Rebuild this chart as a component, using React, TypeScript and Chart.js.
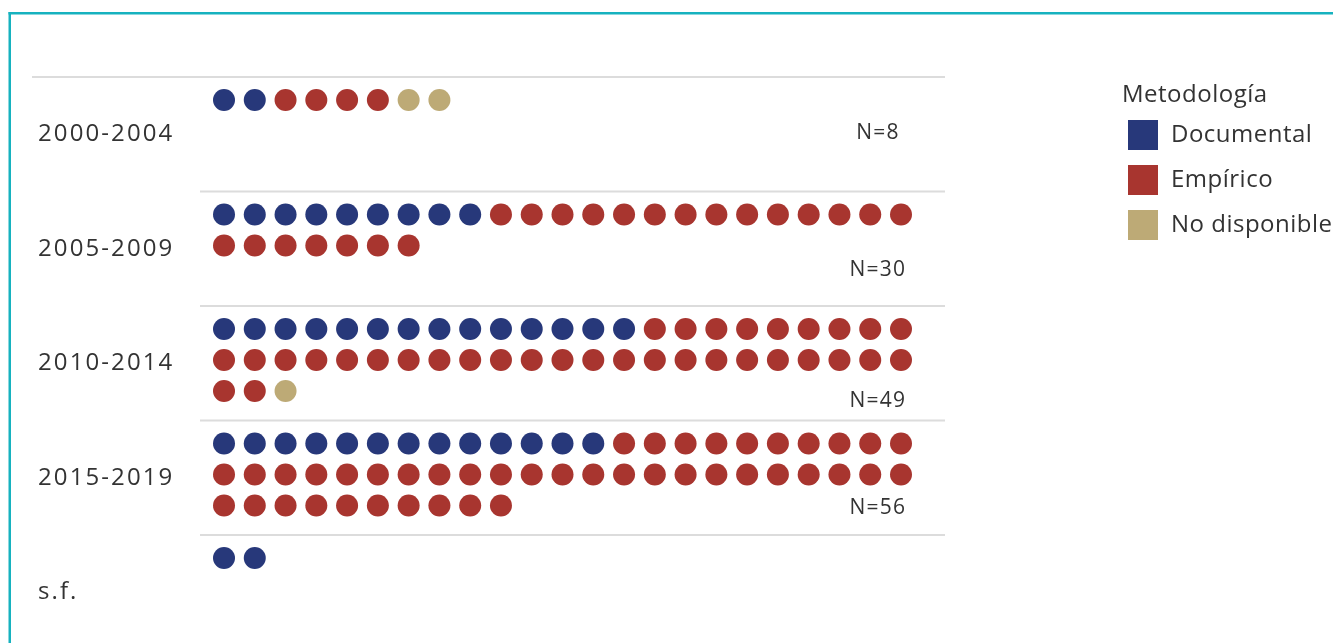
import React, { useEffect, useRef } from "react";
import { Chart, registerables } from "chart.js";
Chart.register(...registerables);

// ---- data ----
const periods = ["2000-2004", "2005-2009", "2010-2014", "2015-2019", "s.f."];
const documental = [2, 9, 14, 13, 2];
const empirico = [4, 21, 34, 43, 0];
const noDisponible = [2, 0, 1, 0, 0];
const showN = [true, true, true, true, false];
const categoryNames = ["Documental", "Empírico", "No disponible"];
const categoryColors = ["#27387a", "#a8352f", "#bdaa76"];
const legendTitle = "Metodología";

// ---- layout constants ----
const PER_ROW = 23;
const BAND_PX = 114.5;
const FIRST_ROW = 23 / BAND_PX;
const ROW_STEP = 31 / BAND_PX;
const N_LABEL_DY = [56, 79, 95, 88, 0];
const TEXT_COLOR = "#333333";
const FONT = "'Open Sans', 'Noto Sans', sans-serif";

type Pt = { x: number; y: number };

function buildPoints(): Pt[][] {
  const series = [documental, empirico, noDisponible];
  const out: Pt[][] = series.map(() => []);
  periods.forEach((_, g) => {
    let idx = 0;
    series.forEach((arr, s) => {
      for (let k = 0; k < arr[g]; k++) {
        const col = idx % PER_ROW;
        const row = Math.floor(idx / PER_ROW);
        out[s].push({ x: col, y: g + FIRST_ROW + row * ROW_STEP });
        idx++;
      }
    });
  });
  return out;
}

const decorPlugin = {
  id: "decor",
  beforeDraw(chart: any) {
    const ctx = chart.ctx;
    ctx.save();
    ctx.fillStyle = "#ffffff";
    ctx.fillRect(0, 0, chart.width, chart.height);
    // teal frame
    ctx.fillStyle = "#16b2bf";
    ctx.fillRect(8.5, 12, 2.5, chart.height);
    ctx.fillRect(8.5, 12, chart.width, 2.5);
    ctx.restore();
  },
  beforeDatasetsDraw(chart: any) {
    const ctx = chart.ctx;
    const y = chart.scales.y;
    const area = chart.chartArea;
    ctx.save();
    ctx.strokeStyle = "#dcdcdc";
    ctx.lineWidth = 2;
    for (let k = 0; k < periods.length; k++) {
      const py = y.getPixelForValue(k);
      ctx.beginPath();
      ctx.moveTo(k === 0 ? 32 : area.left, py);
      ctx.lineTo(area.right, py);
      ctx.stroke();
    }
    // period labels
    ctx.fillStyle = TEXT_COLOR;
    ctx.font = `24px ${FONT}`;
    (ctx as any).letterSpacing = "2.1px";
    ctx.textAlign = "left";
    ctx.textBaseline = "middle";
    periods.forEach((p, g) => {
      ctx.fillText(p, 38, y.getPixelForValue(g + 0.5));
    });
    // N labels
    ctx.font = `21px ${FONT}`;
    (ctx as any).letterSpacing = "1.2px";
    ctx.textAlign = "center";
    const xs = chart.scales.x;
    periods.forEach((_, g) => {
      if (!showN[g]) return;
      const n = documental[g] + empirico[g] + noDisponible[g];
      ctx.fillText(`N=${n}`, xs.getPixelForValue(21.25), y.getPixelForValue(g) + N_LABEL_DY[g]);
    });
    // legend
    (ctx as any).letterSpacing = "0.5px";
    ctx.textAlign = "left";
    ctx.font = `24px ${FONT}`;
    ctx.fillText(legendTitle, 1122, 95);
    categoryNames.forEach((name, i) => {
      const cy = 135 + i * 45;
      ctx.fillStyle = categoryColors[i];
      ctx.fillRect(1128, cy - 15, 30, 30);
      ctx.fillStyle = TEXT_COLOR;
      ctx.fillText(name, 1171, cy);
    });
    ctx.restore();
  },
};

export default function App() {
  const ref = useRef<HTMLCanvasElement | null>(null);
  useEffect(() => {
    if (!ref.current) return;
    const pts = buildPoints();
    const chart = new Chart(ref.current, {
      type: "scatter",
      data: {
        datasets: categoryNames.map((name, i) => ({
          label: name,
          data: pts[i],
          backgroundColor: categoryColors[i],
          borderWidth: 0,
          pointRadius: 11,
          pointHoverRadius: 11,
        })),
      },
      options: {
        animation: false,
        responsive: false,
        layout: { autoPadding: false, padding: { left: 200, right: 388, top: 77, bottom: 0 } },
        scales: {
          x: { type: "linear", min: -0.78, max: 23.43, display: false },
          y: { type: "linear", min: 0, max: 566 / BAND_PX, reverse: true, display: false },
        },
        plugins: { legend: { display: false }, tooltip: { enabled: false } },
      },
      plugins: [decorPlugin],
    });
    return () => chart.destroy();
  }, []);
  return (
    <div style={{ position: "fixed", left: 0, top: 0, width: 1333, height: 643 }}>
      <canvas ref={ref} width={1333} height={643} style={{ display: "block" }} />
    </div>
  );
}
